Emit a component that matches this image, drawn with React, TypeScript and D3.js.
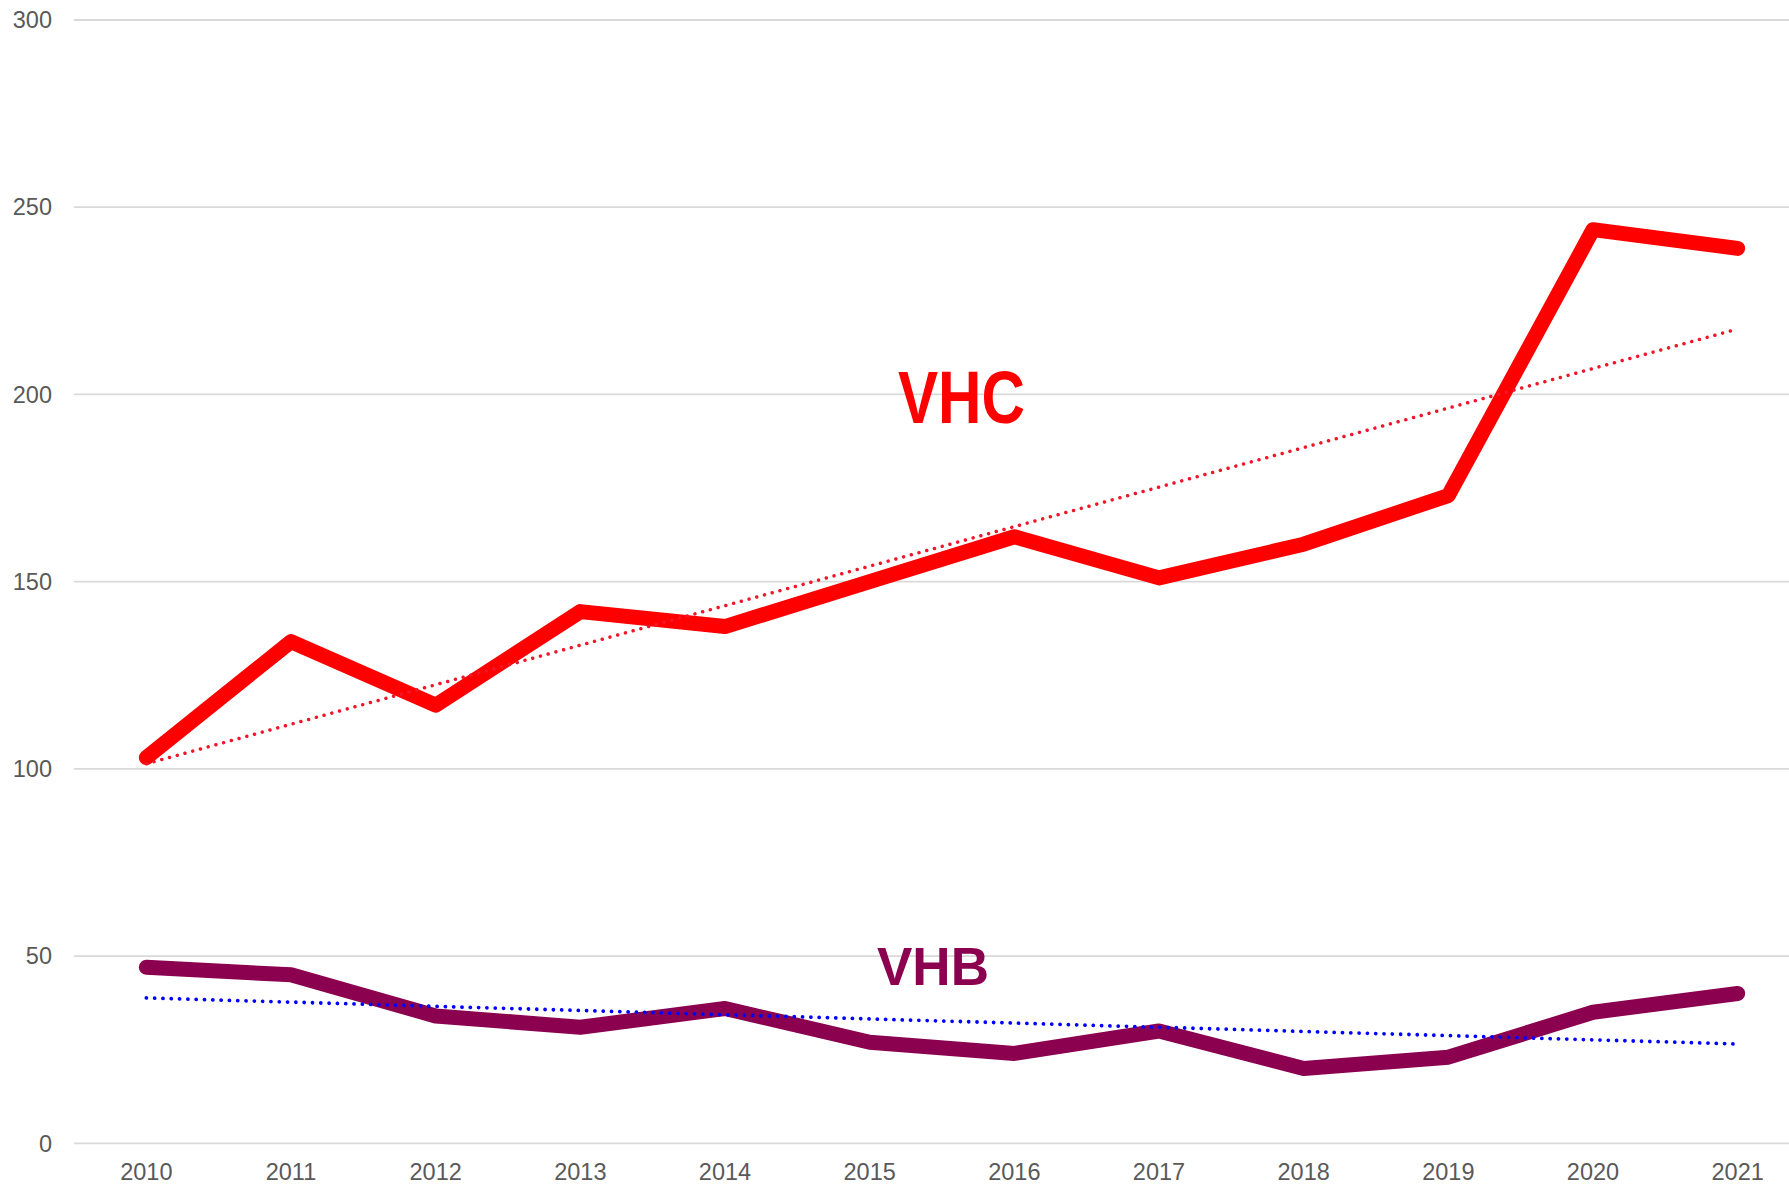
import React from "react";
import * as d3 from "d3";

const years = [2010, 2011, 2012, 2013, 2014, 2015, 2016, 2017, 2018, 2019, 2020, 2021];
const vhc = [103, 134, 117, 142, 138, 150, 162, 151, 160, 173, 244, 239];
const vhb = [47, 45, 34, 31, 36, 27, 24, 30, 20, 23, 35, 40];
const yTicks = [0, 50, 100, 150, 200, 250, 300];

const W = 1789;
const H = 1186;

function trend(vals: number[]) {
  const n = vals.length;
  const xs = vals.map((_, i) => i);
  const mx = d3.mean(xs) as number;
  const my = d3.mean(vals) as number;
  let sxy = 0, sxx = 0;
  xs.forEach((x, i) => { sxy += (x - mx) * (vals[i] - my); sxx += (x - mx) * (x - mx); });
  const b = sxy / sxx;
  const a = my - b * mx;
  return [a, a + b * (n - 1)];
}

export default function App() {
  const x = d3.scaleBand<number>().domain(years).range([74, 1810]).padding(0);
  const cx = (yr: number) => (x(yr) as number) + x.bandwidth() / 2;
  const y = d3.scaleLinear().domain([0, 300]).range([1143.3, 20]);
  const line = d3.line<number>().x((_, i) => cx(years[i])).y((d) => y(d));
  const tC = trend(vhc);
  const tB = trend(vhb);
  const font = "'Liberation Sans', Arial, sans-serif";
  return (
    <svg width={W} height={H} style={{ position: "absolute", left: 0, top: 0, background: "#fff" }}>
      {yTicks.map((t) => (
        <g key={t}>
          <line x1={74} x2={W} y1={y(t)} y2={y(t)} stroke="#d9d9d9" strokeWidth={1.8} />
          <text x={52} y={y(t)} dy="0.35em" textAnchor="end" fontFamily={font} fontSize={23.5} fill="#595959">{t}</text>
        </g>
      ))}
      {years.map((yr) => (
        <text key={yr} x={cx(yr)} y={1180} textAnchor="middle" fontFamily={font} fontSize={23.5} fill="#595959">{yr}</text>
      ))}
      <path d={line(vhc) as string} fill="none" stroke="#ff0000" strokeWidth={15} strokeLinecap="round" strokeLinejoin="round" />
      <path d={line(vhb) as string} fill="none" stroke="#8b004f" strokeWidth={15} strokeLinecap="round" strokeLinejoin="round" />
      <line x1={cx(years[0])} x2={cx(years[years.length - 1])} y1={y(tC[0])} y2={y(tC[1])} stroke="#f0162a" strokeWidth={3.5} strokeLinecap="round" strokeDasharray="0.01 8" />
      <line x1={cx(years[0])} x2={cx(years[years.length - 1])} y1={y(tB[0])} y2={y(tB[1])} stroke="#0000ff" strokeWidth={3.8} strokeLinecap="round" strokeDasharray="0.01 8.3" />
      <text x={898} y={423} fontFamily="'Liberation Sans Narrow', 'Liberation Sans', Arial, sans-serif" fontWeight="bold" fontSize={74} fill="#ff0000" textLength={127} lengthAdjust="spacingAndGlyphs">VHC</text>
      <text x={877} y={985} fontFamily={font} fontWeight="bold" fontSize={53} fill="#8b004f">VHB</text>
    </svg>
  );
}
